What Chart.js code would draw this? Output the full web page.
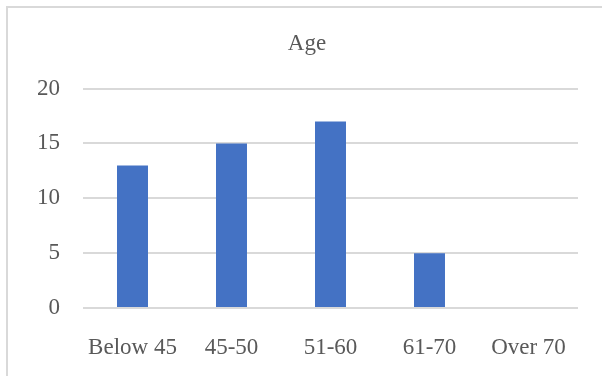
<!DOCTYPE html>
<html>
<head>
<meta charset="utf-8">
<script src="https://cdn.jsdelivr.net/npm/chart.js@4/dist/chart.umd.min.js"></script>
<style>
  html, body { margin: 0; padding: 0; background: #fff; overflow: hidden; }
  #box { position: absolute; left: 6px; top: 6px; width: 598px; height: 372px; border: 2px solid #d9d9d9; }
  #chart { display: block; }
</style>
</head>
<body>
<div id="box"><canvas id="chart" width="598" height="370"></canvas></div>
<script>
/* ---------------- DATA ---------------- */
const categories = ["Below 45", "45-50", "51-60", "61-70", "Over 70"];
const counts = [13, 15, 17, 5, 0];
const yTicks = [0, 5, 10, 15, 20];

const textColor = "#595959";
const font = { family: "'Liberation Serif', 'Times New Roman', serif", size: 23 };

/* ---------------- CHART ---------------- */
const ctx = document.getElementById("chart").getContext("2d");
new Chart(ctx, {
  type: "bar",
  data: {
    labels: categories,
    datasets: [
      {
        label: "Age",
        data: counts,
        backgroundColor: "#4472C4",
        borderWidth: 0,
        barPercentage: 0.313,
        categoryPercentage: 1,
      },
    ],
  },
  options: {
    responsive: false,
    animation: false,
    // equal side padding keeps the title centred on the whole box
    layout: { padding: { left: 28, right: 28, top: 0, bottom: 0 } },
    plugins: {
      legend: { display: false },
      tooltip: { enabled: false },
      title: {
        display: true,
        text: "Age",
        color: textColor,
        font: { ...font, weight: "normal" },
        padding: { top: 22, bottom: 31 },
      },
    },
    scales: {
      x: {
        grid: { display: false },
        border: { display: false },
        ticks: { color: textColor, font: font, padding: 18, maxRotation: 0 },
        afterFit: (s) => { s.height = 70; },
      },
      y: {
        min: 0,
        max: 20,
        afterBuildTicks: (s) => { s.ticks = yTicks.map((v) => ({ value: v })); },
        grid: { color: "#d9d9d9", lineWidth: 2, drawTicks: false },
        border: { display: false },
        ticks: { color: textColor, font: font, padding: 23 },
        afterFit: (s) => { s.width = 47; },
      },
    },
  },
});
</script>
</body>
</html>
